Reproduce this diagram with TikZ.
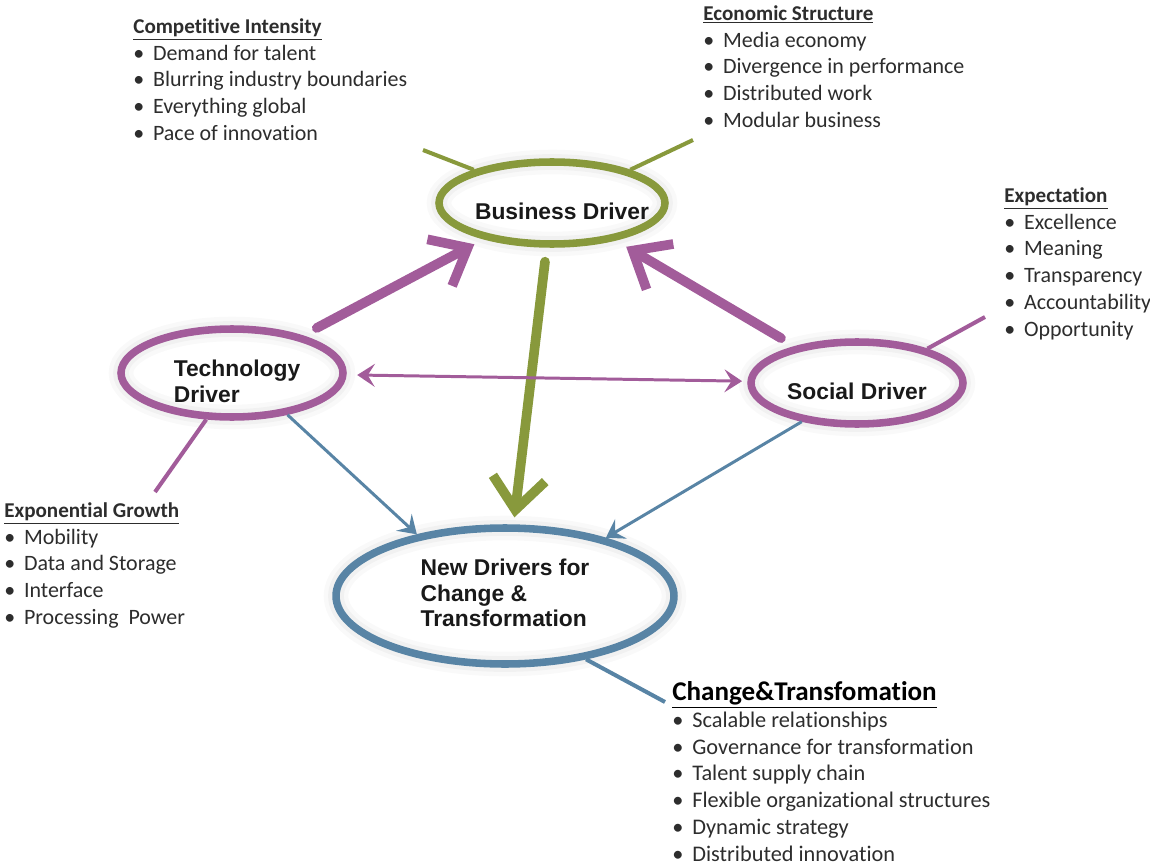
\documentclass[tikz,border=0pt]{standalone}
\usepackage{fontspec}
\setmainfont{Carlito}[Ligatures=NoCommon]
\newfontfamily\drvfont{Liberation Sans}
\usetikzlibrary{shapes.geometric,arrows.meta}

\definecolor{drvgreen}{RGB}{136,153,60}
\definecolor{drvpurple}{RGB}{162,92,154}
\definecolor{drvblue}{RGB}{88,132,165}
\definecolor{listgray}{RGB}{45,45,45}

\newcommand{\itm}{\textbullet\hspace{0.4em}}
\newcommand{\hd}[1]{{\fontsize{12}{15}\selectfont\textbf{\underline{#1}}}}

\tikzset{
  driver/.style={ellipse, draw=#1, line width=4.3pt, inner sep=0pt,
    preaction={draw=black, opacity=0.025, line width=14pt},
    preaction={draw=black, opacity=0.03, line width=9pt}},
  drvlabel/.style={font=\drvfont\bfseries\fontsize{13}{14.7}\selectfont,
    align=left, text=black!90},
  fat/.style={draw=#1, line width=5.5pt, line cap=round,
    >={Straight Barb[length=18pt,width=30pt]}},
  thin/.style={draw=#1, line width=1.7pt,
    >={Stealth[length=10pt,width=13pt,inset=4pt]}},
  spoke/.style={draw=#1, line width=2.3pt},
  block/.style={anchor=north west, inner sep=0pt, align=left, text=listgray,
    font=\fontsize{12.5}{15.3}\selectfont},
}

\begin{document}
\begin{tikzpicture}[x=0.02cm, y=-0.02cm]
\useasboundingbox (0,0) rectangle (1150,865);

\node[driver=drvgreen, minimum width=4.52cm, minimum height=1.64cm,
  label={[drvlabel, xshift=0.2cm, yshift=-0.16cm]center:Business Driver}] (biz) at (552,203) {};
\node[driver=drvpurple, minimum width=4.44cm, minimum height=1.76cm,
  label={[drvlabel, xshift=0.1cm, yshift=-0.16cm]center:Technology\\Driver}] (tech) at (232,373) {};
\node[driver=drvpurple, minimum width=4.24cm, minimum height=1.64cm,
  label={[drvlabel, yshift=-0.17cm]center:Social Driver}] (social) at (857,383) {};
\node[driver=drvblue, minimum width=6.76cm, minimum height=2.72cm,
  label={[drvlabel, yshift=0.06cm]center:New Drivers for\\Change \&\\Transformation}] (newdrv) at (505,596) {};

\node[block] (compint) at (133,18) {\hd{Competitive Intensity}\\
  \itm Demand for talent\\
  \itm Blurring industry boundaries\\
  \itm Everything global\\
  \itm Pace of innovation};
\node[block] (econ) at (703,5) {\hd{Economic Structure}\\
  \itm Media economy\\
  \itm Divergence in performance\\
  \itm Distributed work\\
  \itm Modular business};
\node[block] (expect) at (1004,187) {\hd{Expectation}\\
  \itm Excellence\\
  \itm Meaning\\
  \itm Transparency\\
  \itm Accountability\\
  \itm Opportunity};
\node[block] (expgrowth) at (4,502) {\hd{Exponential Growth}\\
  \itm Mobility\\
  \itm Data and Storage\\
  \itm Interface\\
  \itm Processing~ Power};
\node[block, font=\fontsize{12.7}{15.3}\selectfont] (change) at (672,681)
  {{\fontsize{15.4}{17}\selectfont\color{black}\textbf{\underline{Change\&Transfomation}}}\\
  \itm Scalable relationships\\
  \itm Governance for transformation\\
  \itm Talent supply chain\\
  \itm Flexible organizational structures\\
  \itm Dynamic strategy\\
  \itm Distributed innovation};

\coordinate (ciend) at (423,150);
\coordinate (esend) at (693,140);
\coordinate (egend) at (155,492);
\coordinate (exend) at (985,317);
\coordinate (ctend) at (665,702);

\draw[spoke=drvgreen] (biz.157) -- (ciend);
\draw[spoke=drvgreen] (biz.23) -- (esend);
\draw[spoke=drvpurple] (tech.241) -- (egend);
\draw[spoke=drvpurple] (social.26) -- (exend);
\draw[spoke=drvblue] (newdrv.-38) -- (ctend);

\draw[fat=drvpurple, ->, shorten <=9pt, shorten >=6pt] (tech) -- (biz);
\draw[fat=drvpurple, ->, shorten <=9pt, shorten >=7pt] (social) -- (biz);
\draw[fat=drvgreen, ->, shorten <=8pt, shorten >=4pt] (biz) -- (newdrv);
\draw[thin=drvpurple, <->, shorten <=6pt, shorten >=3pt] (tech) -- (social);
\draw[thin=drvblue, ->] (tech.-37) -- (newdrv.145);
\draw[thin=drvblue, ->] (social.215) -- (newdrv.30);
\end{tikzpicture}
\end{document}
